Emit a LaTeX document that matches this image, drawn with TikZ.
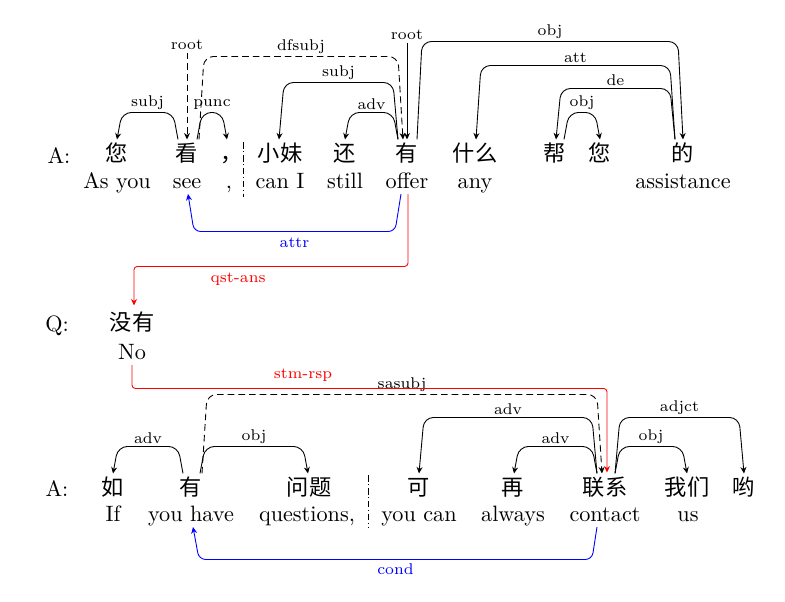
\documentclass[tikz,border=0pt]{standalone}
\usepackage{fontspec}
\newfontfamily\cjk{Noto Sans CJK SC}
\usetikzlibrary{calc,arrows.meta}
\newcommand\darc[8][]{%
  \draw[dep,arc,#1] ($(#2.north)+(#3,0)$) -- ($(#2.north)+({#3+(#8)},{-(#6)})$)
    -- node[lab,above]{#7} ($(#4.north)+({#5-(#8)},{-(#6)})$) -- ($(#4.north)+(#5,0)$);}
\begin{document}
\begin{tikzpicture}[x=0.45pt,y=-0.45pt,
  cn/.style={font=\cjk, anchor=base, inner sep=0pt, text height=9.5pt, text depth=1.5pt},
  en/.style={anchor=base, inner sep=0pt, text height=7pt, text depth=2.5pt},
  spk/.style={anchor=base, inner sep=0pt},
  lab/.style={font=\scriptsize, inner sep=1pt},
  dep/.style={-{Stealth[length=2.9pt,width=2.7pt]}, rounded corners=3pt},
  arc/.style={rounded corners=4.3pt},
  dsh/.style={dash pattern=on 3pt off 1.8pt},
  sepline/.style={dash pattern=on 3pt off 1.2pt on 0.4pt off 1.2pt},
  rel/.style={dep, rounded corners=1.5pt}]
\useasboundingbox (0,0) rectangle (785,601);
% ---- first sentence ----
\node[spk] (sA) at (59,163) {A:};
\node[cn] (c1) at (117,161) {您};
\node[cn] (c2) at (187,161) {看};
\node[cn] (c3) at (232,161) {，};
\node[cn] (c4) at (280,161) {小妹};
\node[cn] (c5) at (345,161) {还};
\node[cn] (c6) at (407,161) {有};
\node[cn] (c7) at (475,161) {什么};
\node[cn] (c8) at (555,161) {帮};
\node[cn] (c9) at (600,161) {您};
\node[cn] (c10) at (683,161) {的};
\node[en] (e1) at (117,188) {As you};
\node[en] (e2) at (187,188) {see};
\node[en] (e3) at (229,188) {,};
\node[en] (e4) at (280,188) {can I};
\node[en] (e5) at (345,188) {still};
\node[en] (e6) at (407,188) {offer};
\node[en] (e7) at (475,188) {any};
\node[en] (e8) at (683,188) {assistance};
\draw[sepline] (243,142) -- (243,197);
\node[lab] (r1) at (187,45) {root};
\node[lab] (r2) at (407,35) {root};
\draw[dep,dsh] (r1.south) -- (c2.north);
\draw[dep] (r2.south) -- (c6.north);
\darc{c2}{-9}{c1}{0}{27}{subj}{-5}
\darc{c2}{10}{c3}{-5}{27}{punc}{5}
\darc[dsh]{c2}{12}{c6}{-4}{83}{dfsubj}{5}
\darc{c6}{-9}{c4}{-1}{57}{subj}{-5}
\darc{c6}{-9}{c5}{0}{27}{adv}{-5}
\darc{c6}{10}{c10}{0}{98}{obj}{5}
\darc{c10}{-8}{c7}{1}{74}{att}{-5}
\darc{c10}{-8}{c8}{1}{51}{de}{-5}
\darc{c8}{9}{c9}{0}{27}{obj}{5}
\draw[dep,blue] ($(e6.south)+(-6,0)$) -- ($(e6.south)+(-12,37.5)$)
  -- node[lab,below,inner sep=2.5pt]{attr} ($(e2.south)+(7,37.5)$) -- ($(e2.south)+(1,0)$);
% ---- question ----
\node[spk] (sQ) at (57,331) {Q:};
\node[cn] (q1) at (132,330) {没有};
\node[en] (q2) at (132,359) {No};
\draw[rel,red] ($(e6.south)+(1,0)$) |- node[lab,below,pos=0.81,inner sep=2.5pt]{qst-ans}
  ($(q1.north)+(2,-42)$) -- ($(q1.north)+(2,-3)$);
% ---- second sentence ----
\node[spk] (sB) at (57,496) {A:};
\node[cn] (b1) at (113,495) {如};
\node[cn] (b2) at (191,495) {有};
\node[cn] (b3) at (309,495) {问题};
\node[cn] (b4) at (419,495) {可};
\node[cn] (b5) at (513,495) {再};
\node[cn] (b6) at (605,495) {联系};
\node[cn] (b7) at (687,495) {我们};
\node[cn] (b8) at (744,495) {哟};
\node[en] (f1) at (113,521) {If};
\node[en] (f2) at (191,521) {you have};
\node[en] (f3) at (307,521) {questions,};
\node[en] (f4) at (419,521) {you can};
\node[en] (f5) at (513,521) {always};
\node[en] (f6) at (605,521) {contact};
\node[en] (f7) at (688,521) {us};
\draw[sepline] (368,475) -- (368,527);
\darc{b2}{-8}{b1}{0}{27}{adv}{-5}
\darc{b2}{9}{b3}{-1}{27}{obj}{5}
\darc[dsh]{b2}{11}{b6}{-3}{79}{sasubj}{5}
\darc{b6}{-8}{b4}{0}{56}{adv}{-5}
\darc{b6}{-8}{b5}{1}{27}{adv}{-5}
\darc{b6}{10}{b8}{0}{56}{adjct}{5}
\darc{b6}{10}{b7}{0}{27}{obj}{5}
\draw[rel,red] (q2.south) |- node[lab,above,pos=0.68,inner sep=3pt]{stm-rsp}
  ($(b6.north)+(2,-85)$) -- ($(b6.north)+(2,-1)$);
\draw[dep,blue] ($(f6.south)+(-8,0)$) -- ($(f6.south)+(-13,32.5)$)
  -- node[lab,below,inner sep=1.5pt]{cond} ($(f2.south)+(8,32.5)$) -- ($(f2.south)+(2,0)$);
\end{tikzpicture}
\end{document}
